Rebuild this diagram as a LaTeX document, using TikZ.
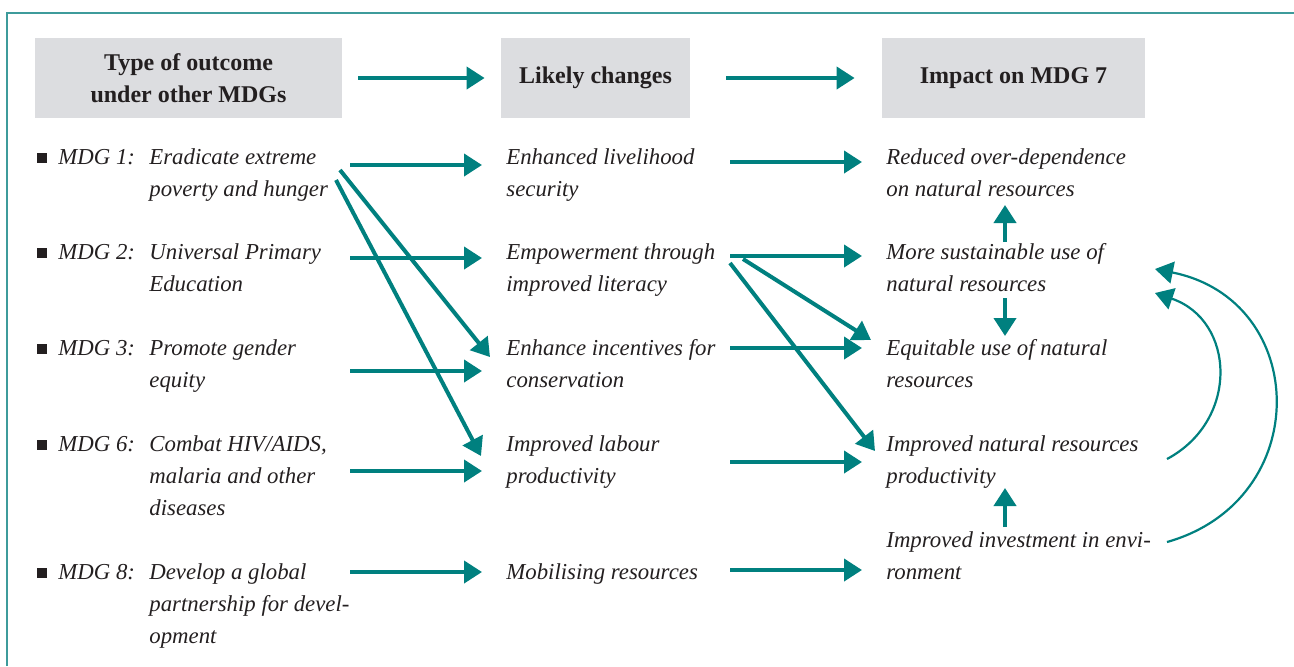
\documentclass[tikz,border=0pt]{standalone}
\usepackage{fontspec}
\setmainfont{Liberation Serif}
\usetikzlibrary{arrows.meta}
\definecolor{tealA}{HTML}{00807F}
\definecolor{tealF}{HTML}{3D9B9B}
\definecolor{hdrgray}{HTML}{DCDDE0}
\definecolor{ink}{HTML}{231F20}
\begin{document}
\begin{tikzpicture}[x=0.5pt,y=-0.5pt,
  arr/.style={draw=tealA, line width=2pt, -{Triangle[length=9pt,width=11pt]}},
  carr/.style={draw=tealA, line width=1.1pt, -{Triangle[length=9pt,width=11pt]}},
  txt/.style={anchor=base west, inner sep=0pt, align=left, text=ink,
    font=\fontsize{11.4}{16}\selectfont\itshape},
  hdr/.style={fill=hdrgray, inner sep=0pt, align=center, text=ink,
    font=\fontsize{12}{16}\selectfont\bfseries, minimum height=40pt},
  blt/.style={fill=ink, minimum size=5pt, inner sep=0pt}]
\useasboundingbox (0,0) rectangle (1294,666);
% frame
\draw[tealF, line width=1pt] (7,666) -- (7,13) -- (1294,13);
% headers
\node[hdr, minimum width=153.5pt] (h1) at (188.5,78) {Type of outcome\\under other MDGs};
\node[hdr, minimum width=94.5pt] (h2) at (595.5,78) {Likely changes};
\node[hdr, minimum width=131.5pt] (h3) at (1013.5,78) {Impact on MDG 7};
\draw[arr] ([xshift=8pt]h1.east) -- ([xshift=-8pt]h2.west);
\draw[arr] ([xshift=18pt]h2.east) -- ([xshift=-13.5pt]h3.west);
% left column (base anchor = baseline of last line)
\node[blt] (b1) at (42,158) {};
\node[blt] (b2) at (42,253) {};
\node[blt] (b3) at (42,349) {};
\node[blt] (b6) at (42,445) {};
\node[blt] (b8) at (42,573) {};
\node[txt] (m1) at (58,164) {MDG 1:};
\node[txt] (m2) at (58,259) {MDG 2:};
\node[txt] (m3) at (58,355) {MDG 3:};
\node[txt] (m6) at (58,451) {MDG 6:};
\node[txt] (m8) at (58,579) {MDG 8:};
\node[txt] (l1) at (149,196) {Eradicate extreme\\poverty and hunger};
\node[txt] (l2) at (149,291) {Universal Primary\\Education};
\node[txt] (l3) at (149,387) {Promote gender\\equity};
\node[txt] (l6) at (149,515) {Combat HIV/AIDS,\\malaria and other\\diseases};
\node[txt] (l8) at (149,643) {Develop a global\\partnership for devel-\\opment};
% middle column
\node[txt] (c1) at (506,196) {Enhanced livelihood\\security};
\node[txt] (c2) at (506,291) {Empowerment through\\improved literacy};
\node[txt] (c3) at (506,387) {Enhance incentives for\\conservation};
\node[txt] (c4) at (506,483) {Improved labour\\productivity};
\node[txt] (c5) at (506,579) {Mobilising resources};
% right column
\node[txt] (r1) at (886,196) {Reduced over-dependence\\on natural resources};
\node[txt] (r2) at (886,291) {More sustainable use of\\natural resources};
\node[txt] (r3) at (886,387) {Equitable use of natural\\resources};
\node[txt] (r4) at (886,483) {Improved natural resources\\productivity};
\node[txt] (r5) at (886,579) {Improved investment in envi-\\ronment};
% arrow end points
\coordinate (a1s) at (350,165); \coordinate (a1e) at (482,165);
\coordinate (a2s) at (350,258); \coordinate (a2e) at (482,258);
\coordinate (a3s) at (350,371); \coordinate (a3e) at (482,371);
\coordinate (a6s) at (350,471); \coordinate (a6e) at (482,471);
\coordinate (a8s) at (350,572); \coordinate (a8e) at (482,572);
\coordinate (d1s) at (340,170); \coordinate (d1e) at (490,357);
\coordinate (d2s) at (336,180); \coordinate (d2e) at (481,456);
\coordinate (b1s) at (730,162); \coordinate (b1e) at (862,162);
\coordinate (b2s) at (730,256); \coordinate (b2e) at (862,256);
\coordinate (b3s) at (730,348); \coordinate (b3e) at (862,348);
\coordinate (b4s) at (730,462); \coordinate (b4e) at (862,462);
\coordinate (b5s) at (730,570); \coordinate (b5e) at (862,570);
\coordinate (e1s) at (743,259); \coordinate (e1e) at (871,340);
\coordinate (e2s) at (730,263); \coordinate (e2e) at (875,451);
\coordinate (v1s) at (1005,242); \coordinate (v1e) at (1005,205);
\coordinate (v2s) at (1005,298); \coordinate (v2e) at (1005,336);
\coordinate (v3s) at (1005,527); \coordinate (v3e) at (1005,488);
\coordinate (k1s) at (1167,459); \coordinate (k1e) at (1155,293);
\coordinate (k2s) at (1167,542); \coordinate (k2e) at (1155,269);
% arrows
\foreach \p in {a1,a2,a3,a6,a8,d1,d2,b1,b2,b3,b4,b5,e1,e2,v1,v2,v3}
  \draw[arr] (\p s) -- (\p e);
\draw[carr] (k1s) .. controls (1240,420) and (1235,320) .. (k1e);
\draw[carr] (k2s) .. controls (1315,500) and (1310,300) .. (k2e);
\end{tikzpicture}
\end{document}
